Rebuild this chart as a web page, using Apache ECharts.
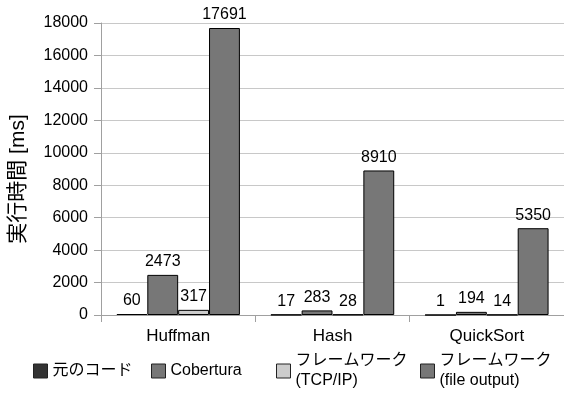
<!DOCTYPE html>
<html><head><meta charset="utf-8">
<script src="https://cdn.jsdelivr.net/npm/echarts@6/dist/echarts.min.js"></script>
<style>html,body{margin:0;padding:0;background:#fff}#c{width:564px;height:401px}</style>
</head><body><div id="c"></div>
<script>
const categories = ['Huffman', 'Hash', 'QuickSort'];
const seriesNames = ['元のコード', 'Cobertura', 'フレームワーク\n(TCP/IP)', 'フレームワーク\n(file output)'];
const original = [60, 17, 1];
const cobertura = [2473, 283, 194];
const tcpip = [317, 28, 14];
const fileOutput = [17691, 8910, 5350];
const yTicks = [0, 2000, 4000, 6000, 8000, 10000, 12000, 14000, 16000, 18000];

const FONT = '"Liberation Sans", "Noto Sans CJK JP", sans-serif';
const colors = ['#333333', '#777777', '#cccccc', '#777777'];
const values = [original, cobertura, tcpip, fileOutput];
const legendLeft = [33, 151, 276, 420];
const LH = 20;

const chart = echarts.init(document.getElementById('c'), null, {renderer: 'canvas'});
chart.setOption({
  animation: false,
  textStyle: {fontFamily: FONT, color: '#000'},
  grid: {left: 100, top: 23, width: 469, height: 292, containLabel: false},
  xAxis: {
    type: 'category', data: categories,
    axisLine: {lineStyle: {color: '#a0a0a0', width: 1}},
    axisTick: {show: true, length: 7, lineStyle: {color: '#a0a0a0'}},
    axisLabel: {fontSize: 17, color: '#000', margin: 13, fontFamily: FONT}
  },
  yAxis: {
    type: 'value', min: yTicks[0], max: yTicks[yTicks.length - 1], interval: 2000,
    name: '実行時間 [ms]', nameLocation: 'middle', nameGap: 72, nameRotate: 90,
    nameTextStyle: {fontSize: 21, color: '#000', fontFamily: FONT, padding: [0, 20, 0, 0]},
    axisLine: {show: true, lineStyle: {color: '#a0a0a0'}},
    axisTick: {show: true, length: 7, lineStyle: {color: '#a0a0a0'}},
    axisLabel: {fontSize: 16, color: '#000', margin: 13, fontFamily: FONT, formatter: v => String(v)},
    splitLine: {lineStyle: {color: '#c8c8c8'}}
  },
  legend: seriesNames.map((n, i) => ({
    left: legendLeft[i], top: i >= 2 ? 341 : 361, padding: 0,
    itemWidth: 14, itemHeight: 14, itemGap: 0, icon: 'rect',
    data: [{name: n, textStyle: i >= 2 ? {padding: [LH, 0, 0, 0]} : {}}],
    textStyle: {fontSize: 16, color: '#000', lineHeight: LH, fontFamily: FONT},
    itemStyle: {borderColor: '#222', borderWidth: 1}
  })),
  series: seriesNames.map((n, i) => ({
    name: n, type: 'bar', data: values[i],
    barGap: '0%', barCategoryGap: '20%',
    itemStyle: {color: colors[i], borderColor: '#000', borderWidth: 1},
    label: {show: true, position: 'top', distance: 5, fontSize: 16, color: '#000', fontFamily: FONT}
  }))
});
</script></body></html>
